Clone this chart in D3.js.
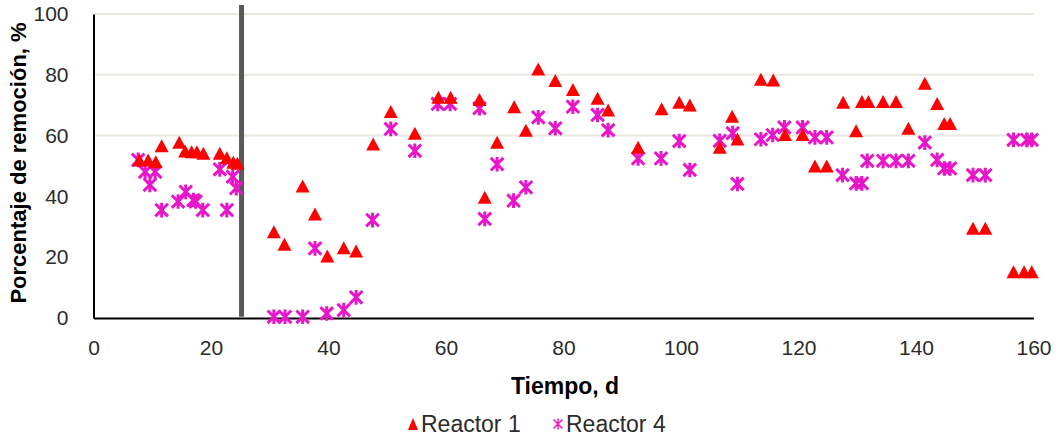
<!DOCTYPE html>
<html>
<head>
<meta charset="utf-8">
<script src="https://cdn.jsdelivr.net/npm/d3@7"></script>
<style>
  html, body { margin: 0; padding: 0; background: #ffffff; }
  svg { display: block; }
  text { font-family: "Liberation Sans", Arial, sans-serif; }
</style>
</head>
<body>
<svg id="chart" width="1056" height="438"></svg>
<script>
// Removal percentage over time for two reactors
const reactor1Days = [7.8, 9.3, 10.6, 11.6, 14.6, 15.6, 16.7, 17.6, 18.7, 21.5, 22.7, 23.8, 24.5,
  30.7, 32.5, 35.6, 37.7, 39.8, 42.6, 44.7, 47.6, 50.6, 54.7, 58.7, 60.8, 65.7, 66.6, 68.7,
  71.6, 73.6, 75.7, 78.6, 81.6, 85.8, 87.6, 92.7, 96.7, 99.7, 101.5, 106.6, 108.7, 109.6,
  113.6, 115.7, 117.7, 120.7, 122.8, 124.8, 127.6, 129.8, 130.8, 131.9, 134.4, 136.6, 138.7,
  141.5, 143.6, 144.8, 145.8, 149.7, 151.8, 156.6, 158.4, 159.7];
const reactor1Values = [52.0, 52.0, 51.4, 56.7, 57.8, 54.9, 54.7, 54.7, 54.2, 54.2, 52.7, 51.2, 50.9,
  28.4, 24.3, 43.4, 34.2, 20.4, 23.1, 22.0, 57.2, 67.9, 60.8, 72.6, 72.6, 71.9, 39.7, 57.8,
  69.5, 61.8, 81.9, 78.1, 75.2, 72.3, 68.4, 56.2, 68.8, 71.0, 70.1, 56.2, 66.4, 58.9,
  78.5, 78.3, 60.4, 60.4, 50.0, 50.0, 71.0, 61.6, 71.2, 71.2, 71.2, 71.2, 62.4,
  77.2, 70.6, 64.0, 64.0, 29.5, 29.5, 15.2, 15.2, 15.2];

const reactor4Days = [7.6, 8.8, 10.5, 9.6, 11.6, 14.4, 15.7, 17.0, 17.4, 18.6, 21.5, 22.7, 23.7, 24.3,
  30.7, 32.6, 35.6, 37.7, 39.7, 42.6, 44.7, 47.5, 50.6, 54.7, 58.6, 60.7, 65.7, 66.6, 68.7,
  71.5, 73.6, 75.7, 78.6, 81.6, 85.8, 87.6, 92.7, 96.6, 99.7, 101.5, 106.6, 108.8, 109.6,
  113.6, 115.6, 117.6, 120.7, 122.8, 124.8, 127.5, 129.8, 130.8, 131.7, 134.4, 136.6, 138.7,
  141.5, 143.6, 144.8, 145.8, 149.7, 151.8, 156.6, 158.9, 159.7];
const reactor4Values = [52.0, 48.1, 48.1, 43.8, 35.5, 38.3, 41.5, 38.8, 38.3, 35.5, 48.9, 35.5, 46.5, 42.7,
  0.4, 0.4, 0.4, 22.9, 1.5, 2.6, 6.8, 32.2, 62.2, 55.0, 70.4, 70.4, 69.0, 32.6, 50.6,
  38.6, 43.0, 66.0, 62.4, 69.5, 66.8, 61.8, 52.5, 52.5, 58.2, 48.7, 58.3, 60.8, 44.1,
  58.8, 60.2, 62.7, 62.7, 59.4, 59.4, 47.0, 44.3, 44.3, 51.7, 51.7, 51.7, 51.7,
  57.7, 52.0, 49.2, 49.2, 47.0, 47.0, 58.6, 58.6, 58.6];

const xTicks = [0, 20, 40, 60, 80, 100, 120, 140, 160];
const yTicks = [0, 20, 40, 60, 80, 100];
const gridValues = [60, 80, 100];
const dividerDay = 25.2;
const seriesNames = ["Reactor 1", "Reactor 4"];

const svg = d3.select("#chart");

const x = d3.scaleLinear().domain([0, 160]).range([93.5, 1033.5]);
const y = d3.scaleLinear().domain([0, 100]).range([318, 14]);

// horizontal gridlines
svg.append("g").selectAll("line").data(gridValues).join("line")
  .attr("x1", x(0)).attr("x2", x(160))
  .attr("y1", d => y(d)).attr("y2", d => y(d))
  .attr("stroke", "#ebe8df").attr("stroke-width", 2);

// axes
const xAxis = svg.append("g").attr("transform", `translate(0,${y(0)})`)
  .call(d3.axisBottom(x).tickValues(xTicks).tickSize(0).tickPadding(22));
xAxis.select(".domain").attr("stroke", "#000").attr("stroke-width", 2);
xAxis.selectAll("text").attr("font-size", 21).attr("fill", "#2b2b2b")
  .attr("font-family", "Liberation Sans, Arial, sans-serif");

const yAxis = svg.append("g").attr("transform", `translate(${x(0)},0)`)
  .call(d3.axisLeft(y).tickValues(yTicks).tickSize(0).tickPadding(25));
yAxis.select(".domain").attr("stroke", "#000").attr("stroke-width", 2);
yAxis.selectAll("text").attr("font-size", 21).attr("fill", "#2b2b2b")
  .attr("font-family", "Liberation Sans, Arial, sans-serif");

// phase divider
svg.append("line")
  .attr("x1", x(dividerDay)).attr("x2", x(dividerDay))
  .attr("y1", y(103)).attr("y2", y(0.4))
  .attr("stroke", "#595959").attr("stroke-width", 5);

// marker shapes
const triPath = (w, h) => `M0,${-h / 2}L${w / 2},${h / 2}L${-w / 2},${h / 2}Z`;
const starPath = (r) => `M${-r},${-r}L${r},${r}M${-r},${r}L${r},${-r}M0,${-r - 1}L0,${r + 1}`;

const r4 = reactor4Days.map((d, i) => ({ d, v: reactor4Values[i] }));
const r1 = reactor1Days.map((d, i) => ({ d, v: reactor1Values[i] }));

svg.append("g").selectAll("path").data(r4).join("path")
  .attr("transform", p => `translate(${x(p.d)},${y(p.v)})`)
  .attr("d", starPath(6.3))
  .attr("fill", "none").attr("stroke", "#e816c9").attr("stroke-width", 3);

svg.append("g").selectAll("path").data(r1).join("path")
  .attr("transform", p => `translate(${x(p.d)},${y(p.v)})`)
  .attr("d", triPath(14, 13))
  .attr("fill", "#ff0000");

// axis titles
svg.append("text")
  .attr("x", 565).attr("y", 394)
  .attr("text-anchor", "middle")
  .attr("font-size", 23).attr("font-weight", "bold").attr("fill", "#000")
  .text("Tiempo, d");

svg.append("text")
  .attr("transform", "translate(26,163) rotate(-90)")
  .attr("text-anchor", "middle")
  .attr("font-size", 22).attr("font-weight", "bold").attr("fill", "#000")
  .text("Porcentaje de remoción, %");

// legend
const legend = svg.append("g");
legend.append("path").attr("transform", "translate(413,424)")
  .attr("d", triPath(10, 12)).attr("fill", "#ff0000");
legend.append("text").attr("x", 421).attr("y", 432)
  .attr("font-size", 23).attr("fill", "#2b2b2b").text(seriesNames[0]);
legend.append("path").attr("transform", "translate(558,424)")
  .attr("d", starPath(4.5)).attr("fill", "none")
  .attr("stroke", "#e816c9").attr("stroke-width", 1.5);
legend.append("text").attr("x", 566).attr("y", 432)
  .attr("font-size", 23).attr("fill", "#2b2b2b").text(seriesNames[1]);
</script>
</body>
</html>
